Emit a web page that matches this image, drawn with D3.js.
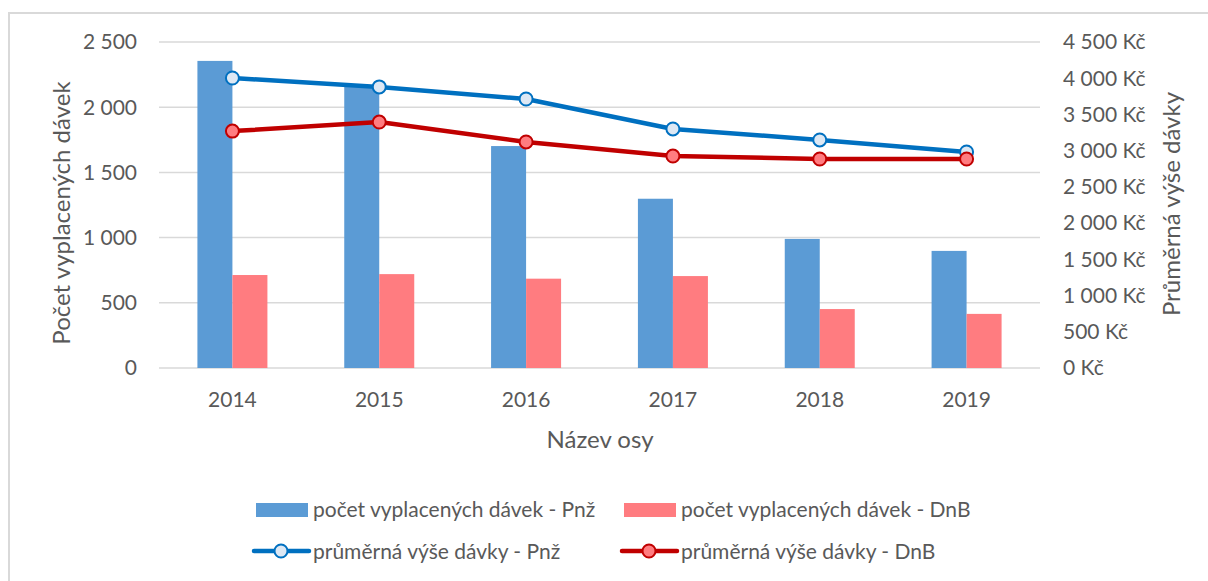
<!DOCTYPE html>
<html>
<head>
<meta charset="utf-8">
<style>
body { margin: 0; background: #fff; }
text { font-family: Lato, "Open Sans", sans-serif; fill: #595959; }
</style>
</head>
<body>
<script src="https://d3js.org/d3.v7.min.js"></script>
<script>
// chart data
var years = ["2014", "2015", "2016", "2017", "2018", "2019"];
var countPnz = [2355, 2155, 1702, 1298, 990, 898];
var countDnb = [713, 720, 685, 705, 452, 415];
var avgPnz = [4003, 3880, 3713, 3300, 3148, 2982];
var avgDnb = [3270, 3395, 3120, 2926, 2885, 2885];
var leftTicks = [0, 500, 1000, 1500, 2000, 2500];
var rightTicks = [0, 500, 1000, 1500, 2000, 2500, 3000, 3500, 4000, 4500];

var W = 1208, H = 581;
var svg = d3.select("body").append("svg").attr("width", W).attr("height", H);

// chart frame (runs off the right and bottom edge)
svg.append("rect").attr("x", 9).attr("y", 13).attr("width", W + 20).attr("height", H + 20)
   .attr("fill", "none").attr("stroke", "#d9d9d9").attr("stroke-width", 2);

var plotL = 159, plotR = 1040, plotT = 42, plotB = 368;

var x = d3.scaleBand().domain(years).range([plotL, plotR]);
var yL = d3.scaleLinear().domain([0, 2500]).range([plotB, plotT]);
var yR = d3.scaleLinear().domain([0, 4500]).range([plotB, plotT]);
var cx = function (i) { return x(years[i]) + x.bandwidth() / 2; };

// format numbers with space thousands separator
var fmt = function (v) { return d3.format(",")(v).replace(/,/g, " "); };

// gridlines
svg.append("g").selectAll("line").data(leftTicks).enter().append("line")
   .attr("x1", plotL).attr("x2", plotR)
   .attr("y1", function (d) { return yL(d); }).attr("y2", function (d) { return yL(d); })
   .attr("stroke", "#d9d9d9").attr("stroke-width", 1.5);

// left axis labels
svg.append("g").selectAll("text").data(leftTicks).enter().append("text")
   .attr("x", 137).attr("y", function (d) { return yL(d); }).attr("dy", "0.35em")
   .attr("text-anchor", "end").attr("font-size", 21).text(fmt);

// right axis labels
svg.append("g").selectAll("text").data(rightTicks).enter().append("text")
   .attr("x", 1063).attr("y", function (d) { return yR(d); }).attr("dy", "0.35em")
   .attr("text-anchor", "start").attr("font-size", 21).text(function (d) { return fmt(d) + " Kč"; });

// x labels
svg.append("g").selectAll("text").data(years).enter().append("text")
   .attr("x", function (d, i) { return cx(i); }).attr("y", 400).attr("dy", "0.35em")
   .attr("text-anchor", "middle").attr("font-size", 21).text(function (d) { return d; });

// axis titles
svg.append("text").attr("transform", "translate(62,213) rotate(-90)").attr("dy", "0.35em")
   .attr("text-anchor", "middle").attr("font-size", 24).text("Počet vyplacených dávek");
svg.append("text").attr("transform", "translate(1172,204) rotate(-90)").attr("dy", "0.35em")
   .attr("text-anchor", "middle").attr("font-size", 24).text("Průměrná výše dávky");
svg.append("text").attr("x", 600).attr("y", 440).attr("dy", "0.35em")
   .attr("text-anchor", "middle").attr("font-size", 24).text("Název osy");

// bars
var barW = 35;
var colBlue = "#5b9bd5", colPink = "#ff7c80";
svg.append("g").selectAll("rect").data(countPnz).enter().append("rect")
   .attr("x", function (d, i) { return cx(i) - barW; })
   .attr("y", function (d) { return yL(d); })
   .attr("width", barW).attr("height", function (d) { return plotB - yL(d); })
   .attr("fill", colBlue);
svg.append("g").selectAll("rect").data(countDnb).enter().append("rect")
   .attr("x", function (d, i) { return cx(i); })
   .attr("y", function (d) { return yL(d); })
   .attr("width", barW).attr("height", function (d) { return plotB - yL(d); })
   .attr("fill", colPink);

// lines with markers
function drawLine(vals, stroke, fill) {
  var line = d3.line()
    .x(function (d, i) { return cx(i); })
    .y(function (d) { return yR(d); });
  svg.append("path").datum(vals).attr("d", line)
     .attr("fill", "none").attr("stroke", stroke).attr("stroke-width", 4.5)
     .attr("stroke-linejoin", "round");
  svg.append("g").selectAll("circle").data(vals).enter().append("circle")
     .attr("cx", function (d, i) { return cx(i); })
     .attr("cy", function (d) { return yR(d); })
     .attr("r", 6.5).attr("fill", fill).attr("stroke", stroke).attr("stroke-width", 2);
}
drawLine(avgPnz, "#0070c0", "#dde8f4");
drawLine(avgDnb, "#c00000", "#ff7c80");

// legend
var lg = svg.append("g").attr("font-size", 21);
lg.append("rect").attr("x", 256).attr("y", 503).attr("width", 52).attr("height", 14).attr("fill", colBlue);
lg.append("text").attr("x", 313).attr("y", 510).attr("dy", "0.35em").text("počet vyplacených dávek - Pnž");
lg.append("rect").attr("x", 624).attr("y", 503).attr("width", 52).attr("height", 14).attr("fill", colPink);
lg.append("text").attr("x", 681).attr("y", 510).attr("dy", "0.35em").text("počet vyplacených dávek - DnB");

function legLine(x0, stroke, fill) {
  lg.append("line").attr("x1", x0).attr("x2", x0 + 55).attr("y1", 551).attr("y2", 551)
    .attr("stroke", stroke).attr("stroke-width", 4.5).attr("stroke-linecap", "round");
  lg.append("circle").attr("cx", x0 + 27).attr("cy", 551).attr("r", 6.5)
    .attr("fill", fill).attr("stroke", stroke).attr("stroke-width", 2);
}
legLine(254, "#0070c0", "#dde8f4");
lg.append("text").attr("x", 313).attr("y", 552).attr("dy", "0.35em").text("průměrná výše dávky - Pnž");
legLine(622, "#c00000", "#ff7c80");
lg.append("text").attr("x", 681).attr("y", 552).attr("dy", "0.35em").text("průměrná výše dávky - DnB");
</script>
</body>
</html>
